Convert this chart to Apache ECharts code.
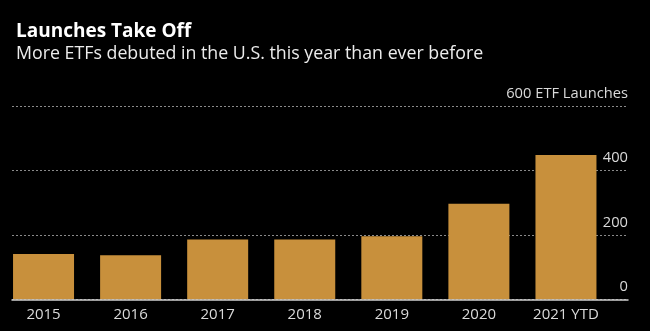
<!DOCTYPE html>
<html>
<head>
<meta charset="utf-8">
<script src="https://cdn.jsdelivr.net/npm/echarts@6/dist/echarts.min.js"></script>
<style>
html,body{margin:0;padding:0;background:#000;}
#chart{width:650px;height:331px;}
</style>
</head>
<body>
<div id="chart"></div>
<script>
const categories = ['2015', '2016', '2017', '2018', '2019', '2020', '2021 YTD'];
const launches = [141, 137, 186, 186, 196, 297, 448];
const yMin = 0;
const yMax = 600;
const yStep = 200;
const titleText = 'Launches Take Off';
const subtitleText = 'More ETFs debuted in the U.S. this year than ever before';
const unitLabel = 'ETF Launches';

const FONT = '"Open Sans", "Noto Sans", sans-serif';
const chart = echarts.init(document.getElementById('chart'), null, {renderer: 'canvas'});

const option = {
  backgroundColor: '#000',
  animation: false,
  title: [
    {text: titleText, left: 11, top: 17,
     textStyle: {color: '#fff', fontFamily: FONT, fontWeight: 'bold', fontSize: 19}},
    {text: subtitleText, left: 11, top: 40,
     textStyle: {color: '#ececec', fontFamily: FONT, fontWeight: 'normal', fontSize: 17.8}}
  ],
  grid: [
    {left: 12, right: 22, top: 106, height: 193.5},
    {left: -1, width: 610.5, top: 106, height: 193.5}
  ],
  xAxis: [
    {gridIndex: 0, type: 'value', min: 0, max: 1, z: 5,
     axisLine: {show: true, lineStyle: {color: '#cfcfcf', width: 1.5}},
     axisTick: {show: false}, axisLabel: {show: false}, splitLine: {show: false}},
    {gridIndex: 1, type: 'category', data: categories,
     axisLine: {show: false}, axisTick: {show: false},
     axisLabel: {color: '#dadada', fontFamily: FONT, fontSize: 15, margin: 8}}
  ],
  yAxis: [
    {gridIndex: 0, type: 'value', min: yMin, max: yMax, interval: yStep, position: 'right',
     axisLine: {show: false}, axisTick: {show: false},
     axisLabel: {inside: true, margin: 0, color: '#dadada', fontFamily: FONT, fontSize: 14.7,
       verticalAlign: 'bottom', padding: [0, 0, 5, 0],
       formatter: v => v === yMax ? v + ' ' + unitLabel : String(v)},
     splitLine: {show: true, lineStyle: {color: '#8a8a8a', width: 1, type: [2, 2]}}},
    {gridIndex: 1, type: 'value', min: yMin, max: yMax, interval: yStep, show: false}
  ],
  series: [
    {type: 'bar', xAxisIndex: 1, yAxisIndex: 1, data: launches, barWidth: 61,
     itemStyle: {color: '#c8903c'}}
  ]
};
chart.setOption(option);
</script>
</body>
</html>
